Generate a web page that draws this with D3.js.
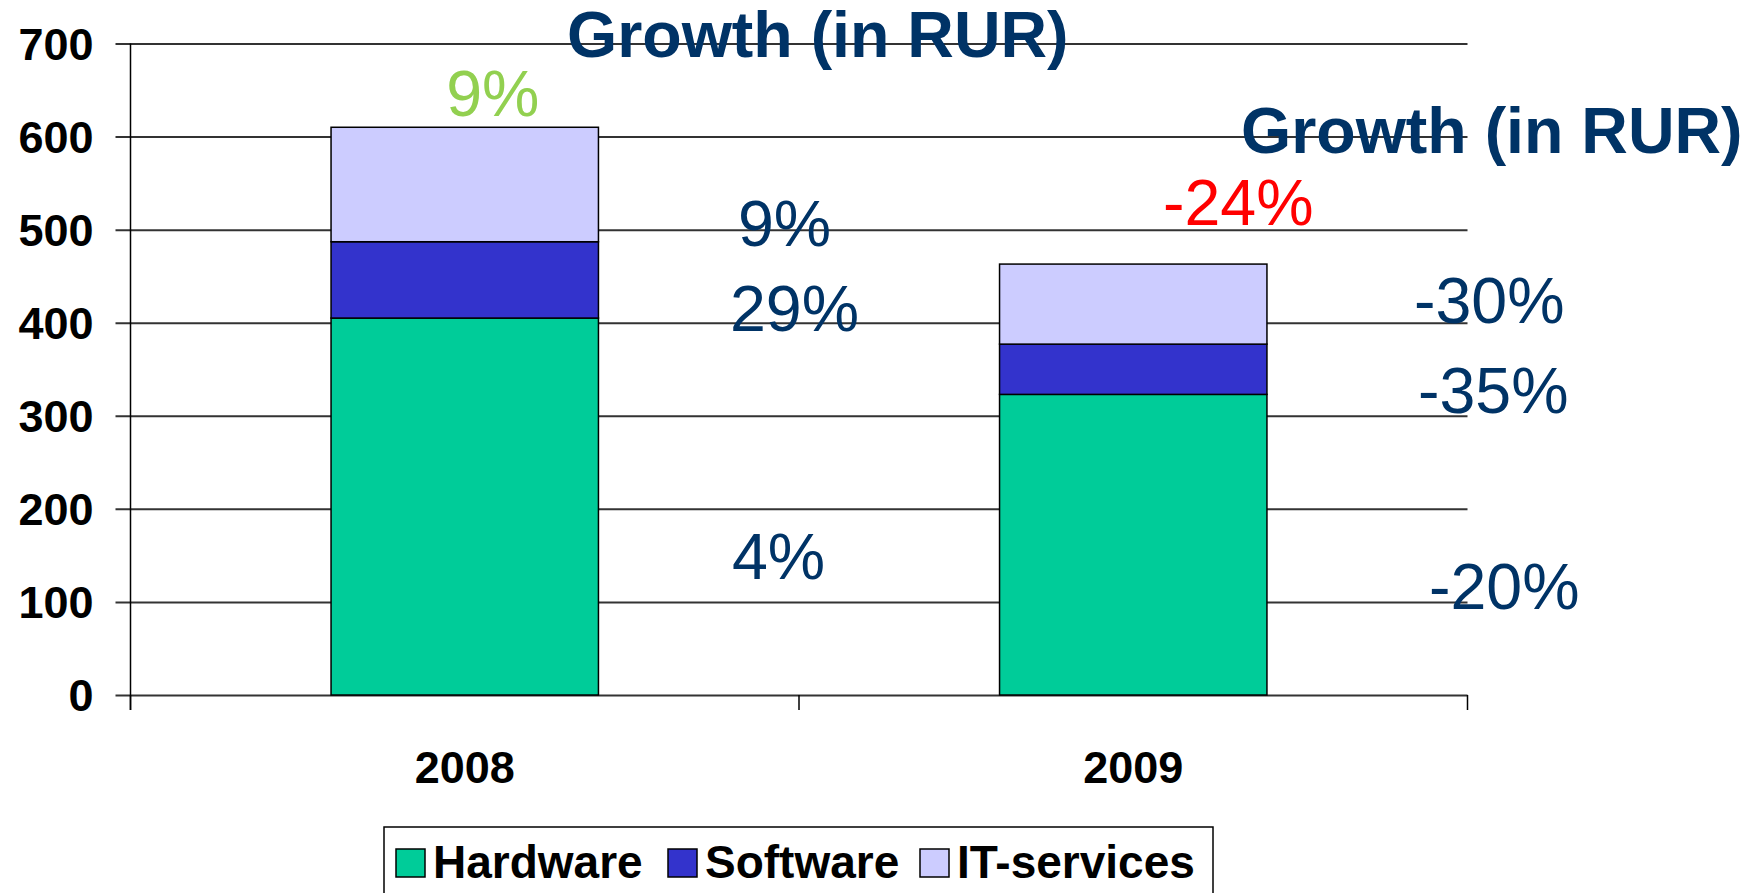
<!DOCTYPE html>
<html>
<head>
<meta charset="utf-8">
<script src="https://cdn.jsdelivr.net/npm/d3@7"></script>
<style>
  html, body { margin: 0; padding: 0; background: #fff; }
  svg { display: block; font-family: "Liberation Sans", Arial, sans-serif; }
</style>
</head>
<body>
<svg id="chart" width="1753" height="893"></svg>
<script>
// data
const years = ["2008", "2009"];
const seriesNames = ["Hardware", "Software", "IT-services"];
const hardware = [405, 323];
const software = [82, 54];
const itServices = [123, 86];
const yTicks = [0, 100, 200, 300, 400, 500, 600, 700];
const totalGrowth = ["9%", "-24%"];
const segmentGrowth2008 = ["4%", "29%", "9%"];
const segmentGrowth2009 = ["-20%", "-35%", "-30%"];
const titleText = "Growth (in RUR)";

const colors = ["#00CC99", "#3333CC", "#CCCCFF"];
const navy = "#003366";

const rows = years.map((yr, i) => ({
    year: yr,
    "Hardware": hardware[i],
    "Software": software[i],
    "IT-services": itServices[i]
}));

const svg = d3.select("#chart");
const plotLeft = 130.5, plotRight = 1467.5, plotTop = 43.5, plotBottom = 695;

const x = d3.scaleBand()
    .domain(years)
    .range([plotLeft, plotRight])
    .paddingInner(0.6)
    .paddingOuter(0.3);

const y = d3.scaleLinear()
    .domain([0, 700])
    .range([plotBottom, plotTop]);

// y axis + gridlines
const yAxis = svg.append("g")
    .attr("transform", `translate(${plotLeft},0)`)
    .call(d3.axisLeft(y).tickValues(yTicks).tickSize(0).tickPadding(0));
yAxis.select(".domain").remove();
yAxis.selectAll(".tick line")
    .attr("x1", -15)
    .attr("x2", plotRight - plotLeft)
    .attr("stroke", "#333")
    .attr("stroke-width", 2);
yAxis.selectAll(".tick text")
    .attr("x", -37)
    .attr("dy", "0.35em")
    .attr("fill", "#000")
    .style("font-size", "45px")
    .style("font-weight", "bold");

// vertical axis line
svg.append("line")
    .attr("x1", plotLeft).attr("x2", plotLeft)
    .attr("y1", plotTop).attr("y2", plotBottom + 15)
    .attr("stroke", "#000").attr("stroke-width", 1.5);

// category boundary ticks
const step = x.step();
const bounds = [plotLeft, plotLeft + step, plotRight];
svg.selectAll(".cattick")
    .data(bounds)
    .join("line")
    .attr("class", "cattick")
    .attr("x1", d => d).attr("x2", d => d)
    .attr("y1", plotBottom).attr("y2", plotBottom + 15)
    .attr("stroke", "#000").attr("stroke-width", 1.5);

// x axis labels
const xAxis = svg.append("g")
    .attr("transform", `translate(0,${plotBottom})`)
    .call(d3.axisBottom(x).tickSize(0).tickPadding(0));
xAxis.select(".domain").remove();
xAxis.selectAll(".tick text")
    .attr("y", 88)
    .attr("dy", 0)
    .attr("fill", "#000")
    .style("font-size", "45px")
    .style("font-weight", "bold");

// stacked bars
const stacked = d3.stack().keys(seriesNames)(rows);
svg.append("g")
    .selectAll("g")
    .data(stacked)
    .join("g")
    .attr("fill", (d, i) => colors[i])
    .selectAll("rect")
    .data(d => d)
    .join("rect")
    .attr("x", d => x(d.data.year))
    .attr("width", x.bandwidth())
    .attr("y", d => y(d[1]))
    .attr("height", d => y(d[0]) - y(d[1]))
    .attr("stroke", "#000")
    .attr("stroke-width", 1.5);

// titles
const titleFont = { size: "64.5px", weight: "bold" };
svg.append("text")
    .attr("x", 567).attr("y", 57)
    .attr("fill", navy)
    .style("font-size", titleFont.size)
    .style("font-weight", titleFont.weight)
    .text(titleText);
svg.append("text")
    .attr("x", 1241).attr("y", 153)
    .attr("fill", navy)
    .style("font-size", titleFont.size)
    .style("font-weight", titleFont.weight)
    .text(titleText);

// growth annotations
const labelSize = "64.5px";
svg.append("text")
    .attr("x", x("2008") + x.bandwidth() / 2 + 28).attr("y", 116)
    .attr("text-anchor", "middle")
    .attr("fill", "#92D050")
    .style("font-size", labelSize)
    .text(totalGrowth[0]);
svg.append("text")
    .attr("x", x("2009") + x.bandwidth() / 2 + 105).attr("y", 225)
    .attr("text-anchor", "middle")
    .attr("fill", "#FF0000")
    .style("font-size", labelSize)
    .text(totalGrowth[1]);

const pos2008 = [[732, 579], [730, 331], [738, 246]];
svg.selectAll(".g2008")
    .data(segmentGrowth2008)
    .join("text")
    .attr("class", "g2008")
    .attr("x", (d, i) => pos2008[i][0])
    .attr("y", (d, i) => pos2008[i][1])
    .attr("fill", navy)
    .style("font-size", labelSize)
    .text(d => d);

const pos2009 = [[1429, 609], [1418, 413], [1414, 323]];
svg.selectAll(".g2009")
    .data(segmentGrowth2009)
    .join("text")
    .attr("class", "g2009")
    .attr("x", (d, i) => pos2009[i][0])
    .attr("y", (d, i) => pos2009[i][1])
    .attr("fill", navy)
    .style("font-size", labelSize)
    .text(d => d);

// legend
const legend = svg.append("g");
legend.append("rect")
    .attr("x", 384).attr("y", 827)
    .attr("width", 829).attr("height", 120)
    .attr("fill", "#fff")
    .attr("stroke", "#000").attr("stroke-width", 1.5);
const swatchX = [396, 668, 920];
const items = legend.selectAll(".item")
    .data(seriesNames)
    .join("g")
    .attr("class", "item")
    .attr("transform", (d, i) => `translate(${swatchX[i]},849)`);
items.append("rect")
    .attr("width", 29).attr("height", 28)
    .attr("fill", (d, i) => colors[i])
    .attr("stroke", "#000").attr("stroke-width", 1.5);
items.append("text")
    .attr("x", 37).attr("y", 29)
    .attr("fill", "#000")
    .style("font-size", "46px")
    .style("font-weight", "bold")
    .text(d => d);
</script>
</body>
</html>
